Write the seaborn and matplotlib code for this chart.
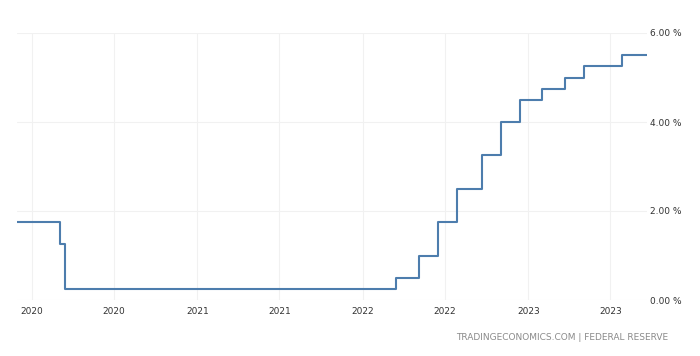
import matplotlib
matplotlib.use("Agg")
import matplotlib.pyplot as plt
import pandas as pd
import seaborn as sns
from matplotlib.ticker import FuncFormatter

# Fed funds target rate (upper bound), step dates
dates = [
    "2019-11-30", "2020-03-03", "2020-03-15", "2022-03-16", "2022-05-04",
    "2022-06-15", "2022-07-27", "2022-09-21", "2022-11-02", "2022-12-14",
    "2023-02-01", "2023-03-22", "2023-05-03", "2023-07-26", "2023-09-20",
]
rates = [1.75, 1.25, 0.25, 0.50, 1.00, 1.75, 2.50, 3.25, 4.00, 4.50,
         4.75, 5.00, 5.25, 5.50, 5.50]

tick_dates = ["2020-01-01", "2020-07-01", "2021-01-01", "2021-07-01",
              "2022-01-01", "2022-07-01", "2023-01-01", "2023-07-01"]
tick_labels = ["2020", "2020", "2021", "2021", "2022", "2022", "2023", "2023"]
y_ticks = [0, 2, 4, 6]
source = "TRADINGECONOMICS.COM | FEDERAL RESERVE"

df = pd.DataFrame({"date": pd.to_datetime(dates), "rate": rates})

sns.set_style("white")
plt.rcParams["font.family"] = ["DejaVu Sans"]

fig = plt.figure(figsize=(7, 3.56), dpi=100)
ax = fig.add_axes([17 / 700, 56 / 356, 630 / 700, 267 / 356])

sns.lineplot(data=df, x="date", y="rate", ax=ax, drawstyle="steps-post",
             color="#4d7dad", linewidth=1.5)

ax.set_xlim(df["date"].iloc[0], df["date"].iloc[-1])
ax.set_ylim(0, 6)
ax.set_xticks(pd.to_datetime(tick_dates))
ax.set_xticklabels(tick_labels)
ax.set_yticks(y_ticks)
ax.yaxis.set_major_formatter(FuncFormatter(lambda v, _: f"{v:.2f} %"))
ax.yaxis.tick_right()

ax.grid(True, color="#f1f1f1", linewidth=0.8)
ax.set_axisbelow(True)
for s in ax.spines.values():
    s.set_visible(False)
ax.tick_params(axis="x", length=0, pad=5, labelsize=6.5, labelcolor="#333333")
ax.tick_params(axis="y", length=0, pad=2, labelsize=6.5, labelcolor="#333333")
ax.set_xlabel("")
ax.set_ylabel("")

fig.text(668 / 700, 1 - 337 / 356, source, ha="right", va="center",
         fontsize=6.5, color="#8a8a8a")

fig.savefig("out.png", dpi=100)
